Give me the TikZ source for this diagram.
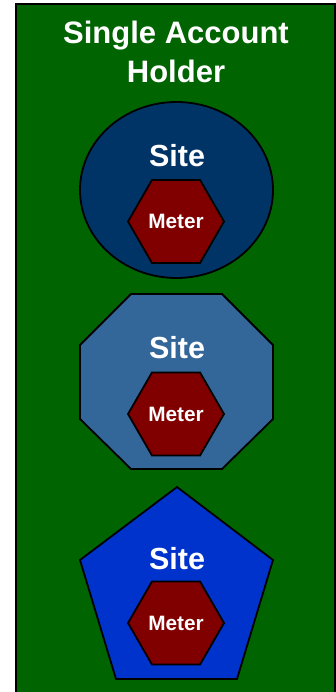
\documentclass[tikz,border=0pt]{standalone}
\usepackage{fontspec}
\setmainfont{Liberation Sans}
\usetikzlibrary{shapes.geometric}
\definecolor{bggreen}{RGB}{0,100,0}
\definecolor{sitedark}{RGB}{0,51,102}
\definecolor{sitemid}{RGB}{51,102,153}
\definecolor{siteblue}{RGB}{0,51,204}
\definecolor{meterred}{RGB}{128,0,0}
\tikzset{
  outline/.style={draw=black, line width=1.8pt, line join=miter},
  sitelabel/.style={text=white, inner sep=0pt, font=\bfseries\fontsize{30.5}{36}\selectfont},
  meterhex/.style={outline, fill=meterred, regular polygon, regular polygon sides=6,
    minimum size=96pt, inner sep=0pt, text=white, font=\bfseries\fontsize{20.8}{24}\selectfont},
}
\begin{document}
\begin{tikzpicture}[x=1pt,y=-1pt]
\useasboundingbox (0,0) rectangle (336,692);
% background
\draw[fill=bggreen, draw=black, line width=2pt] (16,4) rectangle (334.5,700);
\node[text=white, inner sep=0pt, anchor=north, align=center,
  font=\bfseries\fontsize{31}{39}\selectfont] (title) at (176,21) {Single Account\\Holder};
% site 1: ellipse
\node[outline, fill=sitedark, ellipse, minimum width=193pt, minimum height=176pt, inner sep=0pt] (site1) at (176.5,190) {};
\node[sitelabel] (site1label) at (177,156) {Site};
\node[meterhex] (meter1) at (176,221.5) {Meter};
% site 2: octagon
\draw[outline, fill=sitemid] (131,294) -- (222,294) -- (273,345) -- (273,419) -- (222,469) -- (131,469) -- (80,419) -- (80,345) -- cycle;
\coordinate (site2) at (176.5,381.5);
\node[sitelabel] (site2label) at (177,348) {Site};
\node[meterhex] (meter2) at (176,414) {Meter};
% site 3: pentagon
\draw[outline, fill=siteblue] (177,487) -- (273,560) -- (237,679) -- (116,679) -- (80,560) -- cycle;
\coordinate (site3) at (176.5,583);
\node[sitelabel] (site3label) at (177,559) {Site};
\node[meterhex] (meter3) at (176,623) {Meter};
\end{tikzpicture}
\end{document}
